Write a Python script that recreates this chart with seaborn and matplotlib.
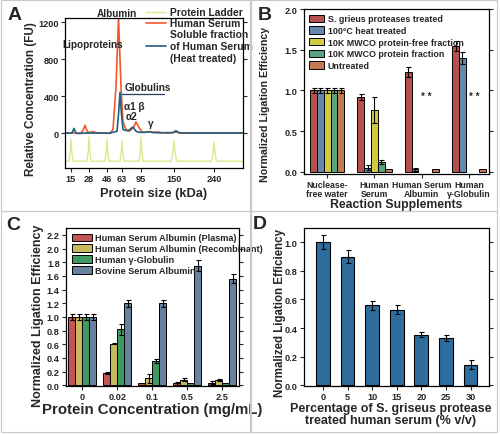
import matplotlib
matplotlib.use("Agg")
from matplotlib import pyplot as plt
from matplotlib.patches import Rectangle
from matplotlib.container import BarContainer
import seaborn as sns
import numpy as np
import pandas as pd

sns.set_theme(style="ticks")
plt.rcParams['font.family'] = ['Liberation Sans', 'DejaVu Sans']
plt.rcParams['font.weight'] = 'bold'
plt.rcParams['axes.labelweight'] = 'bold'
plt.rcParams['axes.linewidth'] = 0.9
plt.rcParams['axes.edgecolor'] = 'black'

# ---- panel A: electropherogram (x = migration position) ----
ladder_kda = ['15', '28', '46', '63', '95', '150', '240']
ladder_pos = [6, 24, 42, 57, 76, 109, 149]
ladder_x = [0, 4, 5.3, 6, 6.7, 8, 22, 23.3, 24, 24.7, 26, 40, 41.3, 42, 42.7, 44,
            55, 56.3, 57, 57.7, 59, 74, 75.3, 76, 76.7, 78, 106.5, 108, 109, 110, 111.5,
            146.5, 148, 149, 150, 151.5, 178]
ladder_y = [-305, -305, -190, -65, -190, -305, -305, -180, -43, -180, -305, -305, -190, -65, -190, -305,
            -305, -200, -86, -200, -305, -305, -180, -43, -180, -305, -305, -200, -86, -200, -305,
            -305, -210, -97, -210, -305, -305]
serum_x = [0, 16, 18.5, 20, 21.5, 23, 26, 28, 30, 33, 45, 48, 51, 53.5, 56, 58, 61, 64, 66,
           68.5, 71, 74, 77, 80, 85, 88, 93, 97, 105, 111, 116, 130, 178]
serum_y = [0, 0, 40, 85, 40, 5, 10, 15, 8, 0, -3, 40, 500, 1250, 500, 120, 40, 20, 35,
           60, 120, 60, 12, 8, 15, 8, 12, 3, 0, 10, 0, 0, 0]
soluble_x = [0, 7, 9, 11, 13, 20, 45, 52, 53.5, 55, 56.5, 58, 60, 63, 65, 68, 71, 74, 80,
             84, 88, 95, 108, 111, 114, 120, 178]
soluble_y = [0, 0, 50, 0, -5, 0, 0, 20, 200, 440, 200, 40, 30, 25, 40, 65, 20, 8, 8,
             15, 5, 3, 5, 25, 3, 0, 0]

# ---- panel B ----
b_groups = ['Nuclease-\nfree water', 'Human\nSerum', 'Human Serum\nAlbumin', 'Human\nγ-Globulin']
b_series = ['S. grieus proteases treated', '100°C heat treated',
            '10K MWCO protein-free fraction', '10K MWCO protein fraction', 'Untreated']
b_vals = [[1.00, 0.92, 1.23, 1.55],
          [1.00, 0.05, 0.03, 1.40],
          [1.00, 0.76, np.nan, np.nan],
          [1.00, 0.12, np.nan, np.nan],
          [1.00, 0.03, 0.03, 0.03]]
b_errs = [[0.03, 0.04, 0.06, 0.06],
          [0.03, 0.03, 0.02, 0.07],
          [0.03, 0.16, 0, 0],
          [0.03, 0.02, 0, 0],
          [0.03, 0.0, 0.0, 0.0]]
b_colors = ['#c8403a', '#5a86b8', '#e8e02a', '#4cb080', '#d8743a']

# ---- panel C ----
c_groups = ['0', '0.02', '0.1', '0.5', '2.5']
c_series = ['Human Serum Albumin (Plasma)', 'Human Serum Albumin (Recombinant)',
            'Human γ-Globulin', 'Bovine Serum Albumin']
c_vals = [[1.00, 0.18, 0.03, 0.03, 0.04],
          [1.00, 0.61, 0.10, 0.08, 0.08],
          [1.00, 0.82, 0.36, 0.04, 0.03],
          [1.00, 1.20, 1.20, 1.75, 1.56]]
c_errs = [[0.05, 0.02, 0.0, 0.02, 0.02],
          [0.05, 0.01, 0.06, 0.02, 0.01],
          [0.05, 0.08, 0.03, 0.0, 0.0],
          [0.05, 0.05, 0.05, 0.08, 0.07]]
c_colors = ['#d84040', '#d8c848', '#30a860', '#6080a8']

# ---- panel D ----
d_pct = ['0', '5', '10', '15', '20', '25', '30']
d_vals = [1.00, 0.90, 0.56, 0.53, 0.355, 0.33, 0.145]
d_errs = [0.05, 0.045, 0.03, 0.03, 0.02, 0.02, 0.03]

fig = plt.figure(figsize=(5, 4.35), dpi=100)

# panel frames
for (x0, y0, w, h) in [(0.001, 0.512, 0.499, 0.486), (0.501, 0.512, 0.493, 0.486),
                       (0.001, 0.005, 0.499, 0.507), (0.501, 0.005, 0.493, 0.507)]:
    fig.patches.append(Rectangle((x0, y0), w, h, transform=fig.transFigure,
                                 fill=False, edgecolor='#c8c8c8', linewidth=0.8))

tick_kw = dict(labelsize=6.6, width=0.8, length=3, pad=1.5, direction='out')


def style_ax(ax):
    ax.tick_params(**tick_kw)
    for lab in ax.get_xticklabels() + ax.get_yticklabels():
        lab.set_fontweight('bold')
        lab.set_linespacing(0.95)


def add_errs(ax, groups_n, vals, errs):
    bars = [c for c in ax.containers if isinstance(c, BarContainer)]
    for si, cont in enumerate(bars):
        for bar in cont:
            if bar is None:
                continue
            cx = bar.get_x() + bar.get_width() / 2
            gi = int(round(cx))
            if gi >= groups_n:
                continue
            v, e = vals[si][gi], errs[si][gi]
            if np.isnan(v) or e <= 0:
                continue
            ax.errorbar(cx, v, yerr=e, color='black', capsize=1.8, elinewidth=0.8,
                        capthick=0.8, fmt='none', zorder=5)


# ---------------- A ----------------
axA = fig.add_axes([0.13, 0.6115, 0.356, 0.3445])
sns.lineplot(x=ladder_x, y=ladder_y, ax=axA, color='#e3e68c', linewidth=1.0,
             label='Protein Ladder', sort=False, estimator=None)
sns.lineplot(x=serum_x, y=serum_y, ax=axA, color='#f2572a', linewidth=1.2,
             label='Human Serum', sort=False, estimator=None)
sns.lineplot(x=soluble_x, y=soluble_y, ax=axA, color='#1f5f80', linewidth=1.2,
             label='Soluble fraction\nof Human Serum\n(Heat treated)', sort=False, estimator=None)
axA.set_xlim(0, 178)
axA.set_ylim(-378, 1243)
axA.set_yticks([0, 400, 800, 1200])
axA.set_xticks(ladder_pos)
axA.set_xticklabels(ladder_kda)
axA.tick_params(axis='y', right=True)
style_ax(axA)
axA.set_xlabel('Protein size (kDa)', fontsize=9.2)
axA.set_ylabel('Relative Concentration (FU)', fontsize=8.4)
axA.xaxis.set_label_coords(0.5, -0.125)
axA.yaxis.set_label_coords(-0.155, 0.47)
axA.legend(loc='upper left', bbox_to_anchor=(0.43, 1.1), frameon=False,
           handlelength=2.0, labelspacing=0.1, borderaxespad=0,
           handletextpad=0.4, prop={'weight': 'bold', 'size': 7.4})
ann = dict(fontsize=7.2, fontweight='bold', ha='center', va='center')
axA.text(52, 1300, 'Albumin', clip_on=False, **ann)
axA.text(28, 960, 'Lipoproteins', **ann)
axA.text(83, 500, 'Globulins', **ann)
axA.annotate('', xy=(100, 395), xytext=(56, 395),
             arrowprops=dict(arrowstyle='-', connectionstyle='bar,fraction=-0.06',
                             color='#1f3f60', lw=0.9))
axA.text(69, 290, 'α1 β', **ann)
axA.text(66, 180, 'α2', **ann)
axA.text(86, 105, 'γ', **ann)

# ---------------- B ----------------
axB = fig.add_axes([0.608, 0.598, 0.37, 0.379])
dfB = pd.DataFrame([(g, s, b_vals[si][gi]) for si, s in enumerate(b_series)
                    for gi, g in enumerate(b_groups)], columns=['group', 'series', 'value'])
sns.barplot(data=dfB, x='group', y='value', hue='series', order=b_groups,
            hue_order=b_series, palette=b_colors, errorbar=None, width=0.72,
            edgecolor='black', linewidth=0.7, ax=axB)
add_errs(axB, len(b_groups), b_vals, b_errs)
axB.set_xlim(-0.49, 3.42)
axB.set_ylim(-0.025, 2.0)
axB.set_yticks([0.0, 0.5, 1.0, 1.5, 2.0])
axB.tick_params(axis='y', right=True)
style_ax(axB)
axB.tick_params(axis='x', labelsize=6.3)
axB.set_xlabel('Reaction Supplements', fontsize=8.8)
axB.set_ylabel('Normalized Ligation Efficiency', fontsize=7.7)
axB.xaxis.set_label_coords(0.5, -0.145)
axB.yaxis.set_label_coords(-0.184, 0.43)
axB.text(2.1, 0.93, '* *', fontsize=7, fontweight='bold', ha='center', va='center')
axB.text(3.1, 0.93, '* *', fontsize=7, fontweight='bold', ha='center', va='center')
axB.legend(loc='upper left', bbox_to_anchor=(0.0, 1.0), frameon=False,
           handlelength=1.7, handleheight=0.9, labelspacing=0.3, borderaxespad=0.2,
           handletextpad=0.4, prop={'weight': 'bold', 'size': 6.4})

# ---------------- C ----------------
axC = fig.add_axes([0.132, 0.1103, 0.346, 0.3633])
dfC = pd.DataFrame([(g, s, c_vals[si][gi]) for si, s in enumerate(c_series)
                    for gi, g in enumerate(c_groups)], columns=['group', 'series', 'value'])
sns.barplot(data=dfC, x='group', y='value', hue='series', order=c_groups,
            hue_order=c_series, palette=c_colors, errorbar=None, width=0.8,
            edgecolor='black', linewidth=0.7, ax=axC)
add_errs(axC, len(c_groups), c_vals, c_errs)
axC.set_xlim(-0.46, 4.48)
axC.set_ylim(-0.01, 2.3)
axC.set_yticks(np.arange(0, 2.21, 0.2))
axC.set_yticklabels([f'{v:.1f}' for v in np.arange(0, 2.21, 0.2)])
axC.tick_params(axis='y', right=True)
style_ax(axC)
axC.set_xlabel('Protein Concentration (mg/mL)', fontsize=10.8)
axC.set_ylabel('Normalized Ligation Efficiency', fontsize=9.0)
axC.xaxis.set_label_coords(0.5, -0.1)
axC.yaxis.set_label_coords(-0.125, 0.45)
axC.legend(loc='upper left', bbox_to_anchor=(0.0, 1.0), frameon=False,
           handlelength=2.2, handleheight=0.9, labelspacing=0.2, borderaxespad=0.2,
           handletextpad=0.4, prop={'weight': 'bold', 'size': 6.6})

# ---------------- D ----------------
axD = fig.add_axes([0.608, 0.1103, 0.37, 0.3633])
sns.barplot(x=d_pct, y=d_vals, color='#2d6e9e', saturation=1, width=0.56,
            edgecolor='black', linewidth=0.8, ax=axD)
axD.errorbar(np.arange(len(d_pct)), d_vals, yerr=d_errs, fmt='none', color='black',
             capsize=1.8, elinewidth=0.8, capthick=0.8, zorder=5)
axD.set_xlim(-0.77, 6.75)
axD.set_ylim(-0.005, 1.1)
axD.set_yticks(np.arange(0, 1.01, 0.2))
axD.set_yticklabels([f'{v:.1f}' for v in np.arange(0, 1.01, 0.2)])
axD.tick_params(axis='y', right=True)
style_ax(axD)
axD.set_xlabel('Percentage of S. griseus protease\ntreated human serum (% v/v)',
               fontsize=9, linespacing=1.05)
axD.set_ylabel('Normalized Ligation Efficiency', fontsize=8.3)
axD.xaxis.set_label_coords(0.47, -0.1)
axD.yaxis.set_label_coords(-0.097, 0.47)

# panel letters
for letter, x, y in [('A', 15, 15), ('B', 265, 15), ('C', 13, 226), ('D', 260, 225)]:
    fig.text(x / 500, 1 - y / 435, letter, fontsize=14, fontweight='bold',
             ha='center', va='center')

fig.savefig('out.png', dpi=100)
